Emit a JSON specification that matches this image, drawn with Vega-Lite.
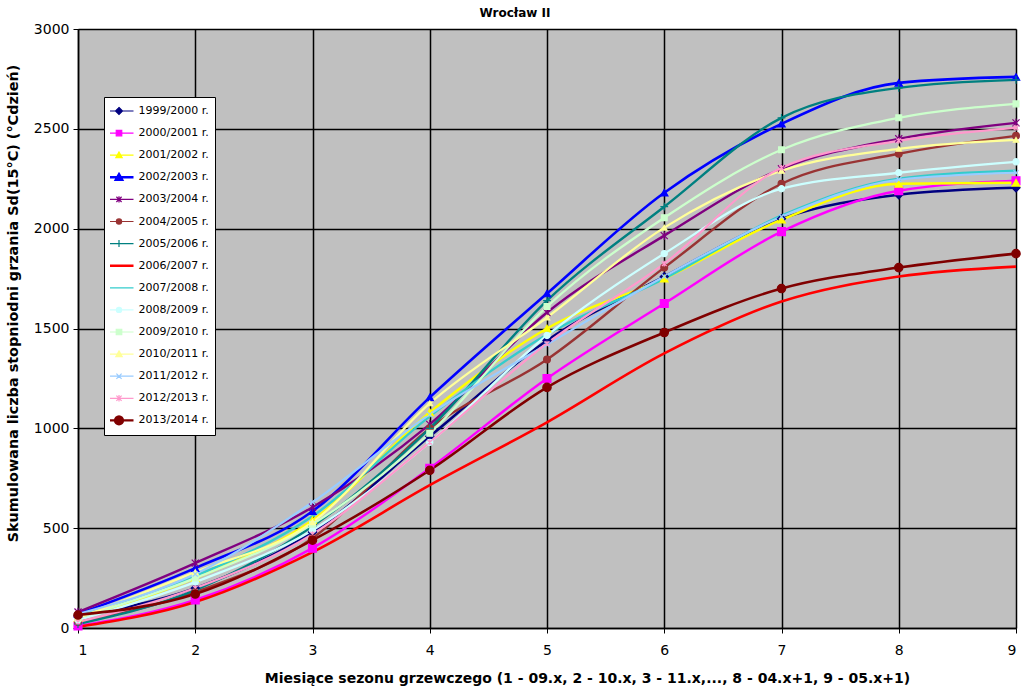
{
  "$schema": "https://vega.github.io/schema/vega-lite/v6.json",
  "autosize": {"type": "none"},
  "width": 938,
  "height": 599,
  "padding": {"left": 78, "top": 29, "right": 8, "bottom": 65},
  "background": "white",
  "title": {
    "text": "Wrocław II",
    "font": "DejaVu Sans",
    "fontSize": 12,
    "fontWeight": "bold",
    "color": "black",
    "anchor": "middle",
    "dx": -32,
    "offset": 2
  },
  "config": {
    "view": {"fill": "#C0C0C0", "stroke": "#808080", "strokeWidth": 1},
    "axis": {
      "labelFont": "DejaVu Sans",
      "labelFontSize": 14,
      "labelColor": "black",
      "titleFont": "DejaVu Sans",
      "titleFontSize": 14,
      "titleFontWeight": "bold",
      "titleColor": "black",
      "domainColor": "black",
      "domainWidth": 1.5,
      "tickColor": "black",
      "tickSize": 5,
      "gridColor": "black",
      "gridWidth": 1.5,
      "gridOpacity": 1
    }
  },
  "data": {
    "values": [
      {"season": "1999/2000 r.", "month": 1, "value": 60},
      {"season": "1999/2000 r.", "month": 2, "value": 200},
      {"season": "1999/2000 r.", "month": 3, "value": 480},
      {"season": "1999/2000 r.", "month": 4, "value": 960},
      {"season": "1999/2000 r.", "month": 5, "value": 1440},
      {"season": "1999/2000 r.", "month": 6, "value": 1760},
      {"season": "1999/2000 r.", "month": 7, "value": 2050},
      {"season": "1999/2000 r.", "month": 8, "value": 2170},
      {"season": "1999/2000 r.", "month": 9, "value": 2205},
      {"season": "2000/2001 r.", "month": 1, "value": 10},
      {"season": "2000/2001 r.", "month": 2, "value": 140},
      {"season": "2000/2001 r.", "month": 3, "value": 400},
      {"season": "2000/2001 r.", "month": 4, "value": 800},
      {"season": "2000/2001 r.", "month": 5, "value": 1250},
      {"season": "2000/2001 r.", "month": 6, "value": 1625},
      {"season": "2000/2001 r.", "month": 7, "value": 1985},
      {"season": "2000/2001 r.", "month": 8, "value": 2190},
      {"season": "2000/2001 r.", "month": 9, "value": 2240},
      {"season": "2001/2002 r.", "month": 1, "value": 50},
      {"season": "2001/2002 r.", "month": 2, "value": 250},
      {"season": "2001/2002 r.", "month": 3, "value": 540},
      {"season": "2001/2002 r.", "month": 4, "value": 1080},
      {"season": "2001/2002 r.", "month": 5, "value": 1500},
      {"season": "2001/2002 r.", "month": 6, "value": 1750},
      {"season": "2001/2002 r.", "month": 7, "value": 2045},
      {"season": "2001/2002 r.", "month": 8, "value": 2225},
      {"season": "2001/2002 r.", "month": 9, "value": 2230},
      {"season": "2002/2003 r.", "month": 1, "value": 70},
      {"season": "2002/2003 r.", "month": 2, "value": 300},
      {"season": "2002/2003 r.", "month": 3, "value": 585},
      {"season": "2002/2003 r.", "month": 4, "value": 1155},
      {"season": "2002/2003 r.", "month": 5, "value": 1675},
      {"season": "2002/2003 r.", "month": 6, "value": 2180},
      {"season": "2002/2003 r.", "month": 7, "value": 2525},
      {"season": "2002/2003 r.", "month": 8, "value": 2730},
      {"season": "2002/2003 r.", "month": 9, "value": 2760},
      {"season": "2003/2004 r.", "month": 1, "value": 80},
      {"season": "2003/2004 r.", "month": 2, "value": 325},
      {"season": "2003/2004 r.", "month": 3, "value": 605},
      {"season": "2003/2004 r.", "month": 4, "value": 1020},
      {"season": "2003/2004 r.", "month": 5, "value": 1580},
      {"season": "2003/2004 r.", "month": 6, "value": 1965},
      {"season": "2003/2004 r.", "month": 7, "value": 2300},
      {"season": "2003/2004 r.", "month": 8, "value": 2450},
      {"season": "2003/2004 r.", "month": 9, "value": 2530},
      {"season": "2004/2005 r.", "month": 1, "value": 30},
      {"season": "2004/2005 r.", "month": 2, "value": 180},
      {"season": "2004/2005 r.", "month": 3, "value": 450},
      {"season": "2004/2005 r.", "month": 4, "value": 1000},
      {"season": "2004/2005 r.", "month": 5, "value": 1345},
      {"season": "2004/2005 r.", "month": 6, "value": 1805},
      {"season": "2004/2005 r.", "month": 7, "value": 2225},
      {"season": "2004/2005 r.", "month": 8, "value": 2375},
      {"season": "2004/2005 r.", "month": 9, "value": 2465},
      {"season": "2005/2006 r.", "month": 1, "value": 20},
      {"season": "2005/2006 r.", "month": 2, "value": 190},
      {"season": "2005/2006 r.", "month": 3, "value": 510},
      {"season": "2005/2006 r.", "month": 4, "value": 1000},
      {"season": "2005/2006 r.", "month": 5, "value": 1640},
      {"season": "2005/2006 r.", "month": 6, "value": 2110},
      {"season": "2005/2006 r.", "month": 7, "value": 2555},
      {"season": "2005/2006 r.", "month": 8, "value": 2705},
      {"season": "2005/2006 r.", "month": 9, "value": 2745},
      {"season": "2006/2007 r.", "month": 1, "value": 5},
      {"season": "2006/2007 r.", "month": 2, "value": 130},
      {"season": "2006/2007 r.", "month": 3, "value": 380},
      {"season": "2006/2007 r.", "month": 4, "value": 715},
      {"season": "2006/2007 r.", "month": 5, "value": 1030},
      {"season": "2006/2007 r.", "month": 6, "value": 1375},
      {"season": "2006/2007 r.", "month": 7, "value": 1635},
      {"season": "2006/2007 r.", "month": 8, "value": 1760},
      {"season": "2006/2007 r.", "month": 9, "value": 1810},
      {"season": "2007/2008 r.", "month": 1, "value": 60},
      {"season": "2007/2008 r.", "month": 2, "value": 260},
      {"season": "2007/2008 r.", "month": 3, "value": 560},
      {"season": "2007/2008 r.", "month": 4, "value": 1060},
      {"season": "2007/2008 r.", "month": 5, "value": 1470},
      {"season": "2007/2008 r.", "month": 6, "value": 1750},
      {"season": "2007/2008 r.", "month": 7, "value": 2065},
      {"season": "2007/2008 r.", "month": 8, "value": 2250},
      {"season": "2007/2008 r.", "month": 9, "value": 2290},
      {"season": "2008/2009 r.", "month": 1, "value": 40},
      {"season": "2008/2009 r.", "month": 2, "value": 230},
      {"season": "2008/2009 r.", "month": 3, "value": 490},
      {"season": "2008/2009 r.", "month": 4, "value": 930},
      {"season": "2008/2009 r.", "month": 5, "value": 1465},
      {"season": "2008/2009 r.", "month": 6, "value": 1875},
      {"season": "2008/2009 r.", "month": 7, "value": 2200},
      {"season": "2008/2009 r.", "month": 8, "value": 2280},
      {"season": "2008/2009 r.", "month": 9, "value": 2335},
      {"season": "2009/2010 r.", "month": 1, "value": 50},
      {"season": "2009/2010 r.", "month": 2, "value": 250},
      {"season": "2009/2010 r.", "month": 3, "value": 520},
      {"season": "2009/2010 r.", "month": 4, "value": 975},
      {"season": "2009/2010 r.", "month": 5, "value": 1610},
      {"season": "2009/2010 r.", "month": 6, "value": 2055},
      {"season": "2009/2010 r.", "month": 7, "value": 2395},
      {"season": "2009/2010 r.", "month": 8, "value": 2555},
      {"season": "2009/2010 r.", "month": 9, "value": 2625},
      {"season": "2010/2011 r.", "month": 1, "value": 50},
      {"season": "2010/2011 r.", "month": 2, "value": 280},
      {"season": "2010/2011 r.", "month": 3, "value": 530},
      {"season": "2010/2011 r.", "month": 4, "value": 1125},
      {"season": "2010/2011 r.", "month": 5, "value": 1555},
      {"season": "2010/2011 r.", "month": 6, "value": 2005},
      {"season": "2010/2011 r.", "month": 7, "value": 2290},
      {"season": "2010/2011 r.", "month": 8, "value": 2400},
      {"season": "2010/2011 r.", "month": 9, "value": 2445},
      {"season": "2011/2012 r.", "month": 1, "value": 70},
      {"season": "2011/2012 r.", "month": 2, "value": 270},
      {"season": "2011/2012 r.", "month": 3, "value": 630},
      {"season": "2011/2012 r.", "month": 4, "value": 1070},
      {"season": "2011/2012 r.", "month": 5, "value": 1420},
      {"season": "2011/2012 r.", "month": 6, "value": 1760},
      {"season": "2011/2012 r.", "month": 7, "value": 2060},
      {"season": "2011/2012 r.", "month": 8, "value": 2245},
      {"season": "2011/2012 r.", "month": 9, "value": 2280},
      {"season": "2012/2013 r.", "month": 1, "value": 30},
      {"season": "2012/2013 r.", "month": 2, "value": 200},
      {"season": "2012/2013 r.", "month": 3, "value": 470},
      {"season": "2012/2013 r.", "month": 4, "value": 930},
      {"season": "2012/2013 r.", "month": 5, "value": 1425},
      {"season": "2012/2013 r.", "month": 6, "value": 1825},
      {"season": "2012/2013 r.", "month": 7, "value": 2305},
      {"season": "2012/2013 r.", "month": 8, "value": 2440},
      {"season": "2012/2013 r.", "month": 9, "value": 2505},
      {"season": "2013/2014 r.", "month": 1, "value": 65},
      {"season": "2013/2014 r.", "month": 2, "value": 170},
      {"season": "2013/2014 r.", "month": 3, "value": 440},
      {"season": "2013/2014 r.", "month": 4, "value": 790},
      {"season": "2013/2014 r.", "month": 5, "value": 1205},
      {"season": "2013/2014 r.", "month": 6, "value": 1480},
      {"season": "2013/2014 r.", "month": 7, "value": 1700},
      {"season": "2013/2014 r.", "month": 8, "value": 1805},
      {"season": "2013/2014 r.", "month": 9, "value": 1875}
    ]
  },
  "encoding": {
    "x": {
      "field": "month",
      "type": "quantitative",
      "scale": {"domain": [1, 9], "nice": false},
      "axis": {
        "values": [1, 2, 3, 4, 5, 6, 7, 8, 9],
        "format": "d",
        "labelPadding": 10,
        "title": "Miesiące sezonu grzewczego (1 - 09.x, 2 - 10.x, 3 - 11.x,..., 8 - 04.x+1, 9 - 05.x+1)",
        "titleX": 509,
        "titleY": 43
      }
    },
    "y": {
      "field": "value",
      "type": "quantitative",
      "scale": {"domain": [0, 3000], "nice": false},
      "axis": {
        "values": [0, 500, 1000, 1500, 2000, 2500, 3000],
        "format": "d",
        "labelPadding": 4,
        "title": "Skumulowana liczba stopniodni grzania Sd(15°C) (°Cdzień)",
        "titleFontSize": 14.4,
        "titleX": -58,
        "titleY": 274
      }
    },
    "color": {
      "field": "season",
      "type": "nominal",
      "scale": {
        "domain": ["1999/2000 r.", "2000/2001 r.", "2001/2002 r.", "2002/2003 r.", "2003/2004 r.", "2004/2005 r.", "2005/2006 r.", "2006/2007 r.", "2007/2008 r.", "2008/2009 r.", "2009/2010 r.", "2010/2011 r.", "2011/2012 r.", "2012/2013 r.", "2013/2014 r."],
        "range": ["#000080", "#FF00FF", "#FFFF00", "#0000FF", "#800080", "#993333", "#008080", "#FF0000", "#33CCCC", "#CCFFFF", "#CCFFCC", "#FFFF99", "#99CCFF", "#FF99CC", "#800000"]
      },
      "legend": {
        "orient": "none",
        "legendX": 26,
        "legendY": 68,
        "title": null,
        "fillColor": "white",
        "strokeColor": "black",
        "padding": 6,
        "labelFont": "DejaVu Sans",
        "labelFontSize": 11,
        "labelColor": "black",
        "labelOffset": 14,
        "symbolOffset": 3.5,
        "symbolSize": 841,
        "clipHeight": 16,
        "rowPadding": 6.1,
        "symbolStrokeWidth": 1.2,
        "encode": {
          "symbols": {
            "update": {
              "shape": {"signal": "['M-1,0H1M0,-0.24L0.24,0L0,0.24L-0.24,0Z','M-1,0H1M-0.19,-0.19H0.19V0.19H-0.19Z','M-1,0H1M0,-0.22L0.22,0.17H-0.22Z','M-1,0H1M0,-0.22L0.22,0.17H-0.22Z','M-1,0H1M-0.18,-0.18L0.18,0.18M-0.18,0.18L0.18,-0.18M0,-0.22V0.22','M-1,0H1M-0.18,0A0.18,0.18 0 1,0 0.18,0A0.18,0.18 0 1,0 -0.18,0Z','M-1,0H1M0,-0.24V0.24','M-1,0H1','M-1,0H1','M-1,0H1M-0.18,0A0.18,0.18 0 1,0 0.18,0A0.18,0.18 0 1,0 -0.18,0Z','M-1,0H1M-0.19,-0.19H0.19V0.19H-0.19Z','M-1,0H1M0,-0.22L0.22,0.17H-0.22Z','M-1,0H1M-0.18,-0.18L0.18,0.18M-0.18,0.18L0.18,-0.18','M-1,0H1M-0.18,-0.18L0.18,0.18M-0.18,0.18L0.18,-0.18M0,-0.22V0.22','M-1,0H1M-0.27,0A0.27,0.27 0 1,0 0.27,0A0.27,0.27 0 1,0 -0.27,0Z'][indexof(['1999/2000 r.','2000/2001 r.','2001/2002 r.','2002/2003 r.','2003/2004 r.','2004/2005 r.','2005/2006 r.','2006/2007 r.','2007/2008 r.','2008/2009 r.','2009/2010 r.','2010/2011 r.','2011/2012 r.','2012/2013 r.','2013/2014 r.'], datum.value)]"},
              "stroke": {"scale": "color", "field": "value"},
              "fill": {"scale": "color", "field": "value"},
              "strokeWidth": {"signal": "indexof(['2002/2003 r.','2006/2007 r.','2013/2014 r.'], datum.value) >= 0 ? 2.4 : 1.2"},
              "opacity": {"value": 1}
            }
          }
        }
      }
    }
  },
  "layer": [
    {
      "mark": {"type": "line", "interpolate": "monotone"},
      "encoding": {
        "strokeWidth": {
          "field": "season",
          "type": "nominal",
          "scale": {
            "domain": ["2002/2003 r.", "2006/2007 r.", "2013/2014 r.", "1999/2000 r.", "2000/2001 r.", "2001/2002 r.", "2003/2004 r.", "2004/2005 r.", "2005/2006 r.", "2007/2008 r.", "2008/2009 r.", "2009/2010 r.", "2010/2011 r.", "2011/2012 r.", "2012/2013 r."],
            "range": [2.6, 2.2, 2.2, 1.2, 1.2, 1.2, 1.2, 1.2, 1.2, 1.4, 1.4, 1.4, 1.4, 1.2, 1.2]
          },
          "legend": null
        }
      }
    },
    {
      "transform": [
        {"filter": "datum.season !== '2006/2007 r.' && datum.season !== '2007/2008 r.'"}
      ],
      "mark": {"type": "point", "filled": true, "strokeWidth": 1.2, "opacity": 1},
      "encoding": {
        "shape": {
          "field": "season",
          "type": "nominal",
          "scale": {
            "domain": ["1999/2000 r.", "2000/2001 r.", "2001/2002 r.", "2002/2003 r.", "2003/2004 r.", "2004/2005 r.", "2005/2006 r.", "2008/2009 r.", "2009/2010 r.", "2010/2011 r.", "2011/2012 r.", "2012/2013 r.", "2013/2014 r."],
            "range": ["diamond", "square", "triangle-up", "triangle-up", "M-1,-1L1,1M-1,1L1,-1M0,-1.2V1.2", "circle", "M-1.2,0H1.2M0,-1.2V1.2", "circle", "square", "triangle-up", "M-1,-1L1,1M-1,1L1,-1", "M-1,-1L1,1M-1,1L1,-1M0,-1.2V1.2", "circle"]
          },
          "legend": null
        },
        "stroke": {
          "field": "season",
          "type": "nominal",
          "scale": {
            "domain": ["1999/2000 r.", "2000/2001 r.", "2001/2002 r.", "2002/2003 r.", "2003/2004 r.", "2004/2005 r.", "2005/2006 r.", "2008/2009 r.", "2009/2010 r.", "2010/2011 r.", "2011/2012 r.", "2012/2013 r.", "2013/2014 r."],
            "range": ["#000080", "#FF00FF", "#FFFF00", "#0000FF", "#800080", "#993333", "#008080", "#CCFFFF", "#CCFFCC", "#FFFF99", "#99CCFF", "#FF99CC", "#800000"]
          },
          "legend": null
        },
        "size": {
          "field": "season",
          "type": "nominal",
          "scale": {
            "domain": ["2013/2014 r.", "1999/2000 r.", "2000/2001 r.", "2001/2002 r.", "2002/2003 r.", "2003/2004 r.", "2004/2005 r.", "2005/2006 r.", "2008/2009 r.", "2009/2010 r.", "2010/2011 r.", "2011/2012 r.", "2012/2013 r."],
            "range": [70, 22, 28, 24, 24, 22, 22, 22, 24, 28, 24, 22, 22]
          },
          "legend": null
        }
      }
    }
  ]
}
